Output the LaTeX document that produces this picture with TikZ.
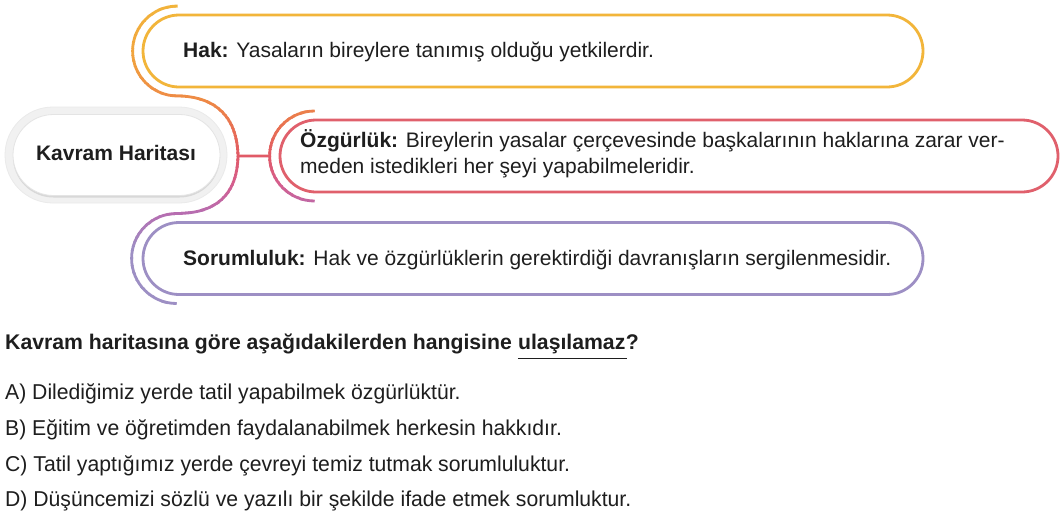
\documentclass[tikz,border=0pt]{standalone}
\usepackage{fontspec}
\setmainfont{Liberation Sans}
\newfontfamily\optfont[FakeStretch=0.985]{Liberation Sans}
\usetikzlibrary{calc}
\definecolor{txt}{HTML}{1E1E1E}
\definecolor{hakc}{HTML}{F2B53A}
\definecolor{ozgc}{HTML}{E0606C}
\definecolor{sorc}{HTML}{9D8FC4}
\definecolor{kvo}{HTML}{F1F1F1}
\definecolor{kvb}{HTML}{EAEAEA}
\definecolor{kvs}{HTML}{D8D8D8}
\definecolor{kvi}{HTML}{E4E4E4}
\definecolor{ga}{HTML}{F2B53A}
\definecolor{gb}{HTML}{F1A43E}
\definecolor{gc}{HTML}{EE8A45}
\definecolor{gd}{HTML}{E87152}
\definecolor{ge}{HTML}{E15A66}
\definecolor{gf}{HTML}{D45E8E}
\definecolor{gg}{HTML}{B56EB2}
\definecolor{gh}{HTML}{9D8FC4}
\tikzset{
  pillbox/.style={draw=#1, line width=2.8pt, rounded corners=36pt, minimum height=72pt, inner sep=0pt, fill=white},
  bodytext/.style={anchor=base west, inner sep=0pt, text=txt, font=\fontsize{21}{26}\selectfont},
  qtext/.style={anchor=base west, inner sep=0pt, text=txt, font=\bfseries\fontsize{21.2}{26}\selectfont},
  opttext/.style={anchor=base west, inner sep=0pt, text=txt, font=\optfont\fontsize{21.5}{26}\selectfont},
  conn/.style={line width=2.8pt, line cap=butt},
  connpath/.style={insert path={
    ($(hak.west)+(36,-45)$) arc[start angle=270,end angle=90,radius=45]
    .. controls +(29,0) and +(-1,-47) .. (junc)
    .. controls +(-1,47) and +(30,0) .. ($(sor.west)+(35,-45)$)
    arc[start angle=270,end angle=90,radius=45]
    (junc) -- ($(ozg.west)+(-9,0)$)
    ($(ozg.west)+(36,-45)$) arc[start angle=270,end angle=90,radius=45]
  }}
}
\newcommand\gradseg[4]{%
  \foreach \k in {0,...,7}{%
    \pgfmathsetmacro\sya{#1+(#2-#1)*\k/8}%
    \pgfmathsetmacro\syb{#1+(#2-#1)*(\k+1)/8+0.5}%
    \pgfmathtruncatemacro\spc{100-(\k+0.5)*100/8}%
    \begin{scope}
      \clip (0,\sya) rectangle (1062,\syb);
      \draw[conn, draw={#3!\spc!#4}, connpath];
    \end{scope}
  }}
\begin{document}
\begin{tikzpicture}[x=1pt,y=-1pt]
\useasboundingbox (0,0) rectangle (1062,528);
\fill[white] (0,0) rectangle (1062,528);

% Kavram Haritasi
\node[draw=kvb, fill=kvo, line width=0.8pt, rounded corners=48pt, minimum width=222pt, minimum height=96pt, inner sep=0pt] (kvout) at (116,155) {};
\fill[kvs, rounded corners=40.5pt] (13,117) rectangle (220,197.5);
\node[fill=white, draw=kvi, line width=0.8pt, rounded corners=40.5pt, minimum width=207pt, minimum height=81pt, inner sep=0pt] (kvin) at (116.5,155) {};
\node[qtext, anchor=base, font=\bfseries\fontsize{21}{26}\selectfont] (kvt) at (116,160) {Kavram Haritası};

% boxes
\node[pillbox=hakc, minimum width=780pt] (hak) at (533,51) {};
\node[pillbox=ozgc, minimum width=778pt] (ozg) at (669,156) {};
\node[pillbox=sorc, minimum width=780pt] (sor) at (533,258.5) {};
\coordinate (junc) at (238,156);

% texts in boxes
\node[bodytext] (hakt) at (183,57.5) {\textbf{Hak:} Yasaların bireylere tanımış olduğu yetkilerdir.};
\node[bodytext] (ozgt1) at (300,147) {\textbf{Özgürlük:} Bireylerin yasalar çerçevesinde başkalarının haklarına zarar ver-};
\node[bodytext] (ozgt2) at (300,173.5) {meden istedikleri her şeyi yapabilmeleridir.};
\node[bodytext] (sort) at (183,265) {\textbf{Sorumluluk:} Hak ve özgürlüklerin gerektirdiği davranışların sergilenmesidir.};

% gradient connectors
\gradseg{1}{55}{ga}{gb}
\gradseg{55}{100}{gb}{gc}
\gradseg{100}{128}{gc}{gd}
\gradseg{128}{156}{gd}{ge}
\gradseg{156}{185}{ge}{gf}
\gradseg{185}{215}{gf}{gg}
\gradseg{215}{250}{gg}{gh}
\gradseg{250}{310}{gh}{gh}

% question
\node[qtext] (q1) at (5,349) {Kavram haritasına göre aşağıdakilerden hangisine};
\node[qtext] (q2) at ($(q1.base east)+(5.9,0)$) {ulaşılamaz};
\node[qtext] (q3) at (q2.base east) {?};
\draw[line width=1.2pt, txt] ($(q2.base west)+(0,9.3)$) -- ($(q2.base east)+(1,9.3)$);

% options
\node[opttext] (oa) at (5,399) {A)\ Dilediğimiz yerde tatil yapabilmek özgürlüktür.};
\node[opttext] (ob) at (5,435.5) {B)\ Eğitim ve öğretimden faydalanabilmek herkesin hakkıdır.};
\node[opttext] (oc) at (5,471) {C)\ Tatil yaptığımız yerde çevreyi temiz tutmak sorumluluktur.};
\node[opttext] (od) at (5,506) {D)\ Düşüncemizi sözlü ve yazılı bir şekilde ifade etmek sorumluktur.};
\end{tikzpicture}
\end{document}
